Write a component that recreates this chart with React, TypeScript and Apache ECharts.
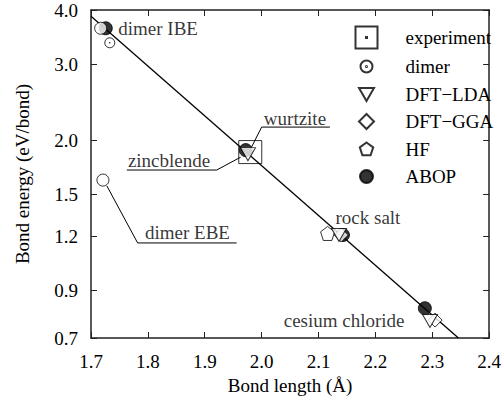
import React, { useEffect, useRef } from "react";
import * as echarts from "echarts";

const xTicks = [1.7, 1.8, 1.9, 2.0, 2.1, 2.2, 2.3, 2.4];
const yTickLabels = [0.7, 0.9, 1.2, 1.5, 2.0, 3.0, 4.0];

const legendNames = ["experiment", "dimer", "DFT\u2212LDA", "DFT\u2212GGA", "HF", "ABOP"];

const experiment = [[1.98, 1.88]];
const dimer = [[1.733, 3.36]];
const dimerBig = [[1.717, 3.63], [1.721, 1.62]];
const dftLda = [[1.976, 1.86], [2.136, 1.21], [2.296, 0.766]];
const dftGga = [[2.14, 1.21], [2.305, 0.77]];
const hf = [[2.116, 1.22]];
const abop = [[1.726, 3.63], [1.972, 1.9], [2.143, 1.21], [2.287, 0.82]];
const fitLine = [[1.7, 3.87], [2.346, 0.7]];

const leaders = [
  [[1.728, 1.57], [1.782, 1.16], [1.956, 1.16]],
  [[1.763, 1.709], [1.921, 1.709], [1.963, 1.83]],
  [[2.12, 2.147], [2.0, 2.147], [1.977, 1.87]],
];

const annotations = [
  { text: "dimer IBE", at: [1.747, 3.63] },
  { text: "dimer EBE", at: [1.794, 1.223] },
  { text: "zincblende", at: [1.764, 1.8] },
  { text: "wurtzite", at: [2.003, 2.25] },
  { text: "rock salt", at: [2.129, 1.33] },
  { text: "cesium chloride", at: [2.038, 0.77] },
];

const FONT = "Liberation Serif, Times New Roman, Times, serif";
const FS = 19;

const P_SQUARE = "path://M0,0H22V22H0Z M10.5,10.5H11.5V11.5H10.5Z";
const P_CIRCDOT = "path://M0,6A6,6 0 1 1 12,6A6,6 0 1 1 0,6Z M5.5,6A0.5,0.5 0 1 1 6.5,6A0.5,0.5 0 1 1 5.5,6Z";
const P_TRI = "path://M0,0L14,0L7,12Z";
const P_DIA = "path://M7,0L14,7L7,14L0,7Z";
const P_PENT = "path://M7,0L14,5.1L11.3,13.3L2.7,13.3L0,5.1Z";

const L_SQUARE = P_SQUARE;
const L_CIRCDOT = "path://M0,0M22,22M5,11A6,6 0 1 1 17,11A6,6 0 1 1 5,11Z M10.5,11A0.5,0.5 0 1 1 11.5,11A0.5,0.5 0 1 1 10.5,11Z";
const L_TRI = "path://M0,0M22,22M3.5,5L18.5,5L11,18Z";
const L_DIA = "path://M0,0M22,22M11,3.5L18.5,11L11,18.5L3.5,11Z";
const L_PENT = "path://M0,0M22,22M11,4.5L17.7,9.4L15.1,17.3L6.9,17.3L4.3,9.4Z";
const L_CIRC = "path://M0,0M22,22M4.5,11A6.5,6.5 0 1 1 17.5,11A6.5,6.5 0 1 1 4.5,11Z";

const lg = (d: number[][]) => d.map(([x, y]) => [x, Math.log(y)]);

export default function App() {
  const ref = useRef<HTMLDivElement>(null);
  useEffect(() => {
    document.body.style.margin = "0";
    if (!ref.current) return;
    const chart = echarts.init(ref.current, undefined, { renderer: "svg" });
    const yMin = Math.log(0.7);
    const yMax = Math.log(4.0);
    const yCustom = yTickLabels.map((v) => Math.log(v));
    const axisLine = { show: true, onZero: false, lineStyle: { color: "#222", width: 1.5 } };
    const tick = { show: true, inside: true, length: 6, lineStyle: { color: "#222", width: 1 } };
    const openStyle = { color: "#fff", borderColor: "#000", borderWidth: 1 };
    const scatterBase = { type: "scatter", xAxisIndex: 0, yAxisIndex: 0, z: 3 };
    const series: any[] = [
      {
        type: "line",
        name: "fit",
        data: lg(fitLine),
        showSymbol: false,
        symbol: "none",
        lineStyle: { color: "#000", width: 1.3 },
        z: 2,
        silent: true,
      },
      ...leaders.map((l, i) => ({
        type: "line",
        name: "leader" + i,
        data: lg(l),
        showSymbol: false,
        symbol: "none",
        lineStyle: { color: "#000", width: 1 },
        z: 2,
        silent: true,
      })),
      {
        ...scatterBase,
        name: "ABOP",
        data: lg(abop),
        symbol: "circle",
        symbolSize: 13,
        itemStyle: { color: "#000", borderColor: "#000", borderWidth: 1 },
        z: 2,
      },
      {
        ...scatterBase,
        name: "experiment",
        data: lg(experiment),
        symbol: P_SQUARE,
        symbolSize: 23,
        itemStyle: { color: "none", borderColor: "#000", borderWidth: 1 },
      },
      {
        ...scatterBase,
        name: "dimer",
        data: lg(dimer),
        symbol: P_CIRCDOT,
        symbolSize: 10,
        itemStyle: openStyle,
      },
      {
        ...scatterBase,
        name: "dimer (expt)",
        data: lg(dimerBig),
        symbol: "circle",
        symbolSize: 12,
        itemStyle: openStyle,
      },
      {
        ...scatterBase,
        name: "HF",
        data: lg(hf),
        symbol: P_PENT,
        symbolSize: 14,
        itemStyle: openStyle,
      },
      {
        ...scatterBase,
        name: "DFT\u2212GGA",
        data: lg(dftGga),
        symbol: P_DIA,
        symbolSize: 14,
        itemStyle: openStyle,
      },
      {
        ...scatterBase,
        name: "DFT\u2212LDA",
        data: lg(dftLda),
        symbol: P_TRI,
        symbolSize: [15, 13],
        itemStyle: openStyle,
      },
      {
        type: "scatter",
        name: "annotations",
        data: annotations.map((a) => ({ value: [a.at[0], Math.log(a.at[1])], name: a.text })),
        symbolSize: 1,
        itemStyle: { color: "rgba(0,0,0,0)" },
        silent: true,
        z: 4,
        label: {
          show: true,
          position: "right",
          distance: 0,
          formatter: (p: any) => p.name,
          color: "#000",
          fontFamily: FONT,
          fontSize: FS,
        },
      },
    ];
    const icons = [L_SQUARE, L_CIRCDOT, L_TRI, L_DIA, L_PENT, L_CIRC];
    chart.setOption({
      animation: false,
      backgroundColor: "#fff",
      textStyle: { fontFamily: FONT },
      grid: { left: 91, right: 11, top: 10, bottom: 69, containLabel: false },
      legend: {
        orient: "vertical",
        left: 348,
        top: 19,
        itemWidth: 22,
        itemHeight: 22,
        itemGap: 3.5,
        data: legendNames.map((n, i) => ({ name: n, icon: icons[i] })),
        textStyle: { fontFamily: FONT, fontSize: FS, color: "#000", padding: [0, 0, 0, 23] },
        selectedMode: false,
      },
      xAxis: [
        {
          type: "value",
          min: 1.7,
          max: 2.4,
          interval: 0.1,
          name: "Bond length (\u00c5)",
          nameLocation: "middle",
          nameGap: 38,
          nameTextStyle: { fontFamily: FONT, fontSize: FS, color: "#000" },
          axisLine,
          axisTick: tick,
          axisLabel: {
            margin: 14,
            fontFamily: FONT,
            fontSize: FS,
            color: "#000",
            formatter: (v: number) => v.toFixed(1),
          },
          splitLine: { show: false },
        },
        {
          type: "value",
          position: "top",
          min: 1.7,
          max: 2.4,
          interval: 0.1,
          axisLine,
          axisTick: tick,
          axisLabel: { show: false },
          splitLine: { show: false },
        },
      ],
      yAxis: [
        {
          type: "value",
          min: yMin,
          max: yMax,
          name: "Bond energy (eV/bond)",
          nameLocation: "middle",
          nameGap: 59,
          nameTextStyle: { fontFamily: FONT, fontSize: FS, color: "#000" },
          axisLine,
          axisTick: { ...tick, customValues: yCustom },
          axisLabel: {
            margin: 13,
            fontFamily: FONT,
            fontSize: FS,
            color: "#000",
            customValues: yCustom,
            formatter: (v: number) => Math.exp(v).toFixed(1),
          },
          splitLine: { show: false },
        },
        {
          type: "value",
          position: "right",
          min: yMin,
          max: yMax,
          axisLine,
          axisTick: { ...tick, customValues: yCustom },
          axisLabel: { show: false, customValues: yCustom },
          splitLine: { show: false },
        },
      ],
      series,
    });
    return () => chart.dispose();
  }, []);
  return <div ref={ref} style={{ width: 504, height: 407 }} />;
}
